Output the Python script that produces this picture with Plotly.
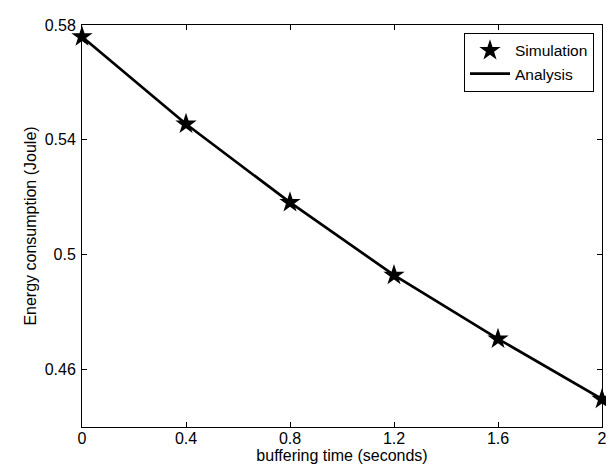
import plotly.graph_objects as go

buffering_time = [0, 0.4, 0.8, 1.2, 1.6, 2.0]
simulation = [0.5759, 0.5455, 0.5182, 0.4929, 0.4707, 0.4497]
analysis = [0.5759, 0.5455, 0.5182, 0.4929, 0.4707, 0.4497]
x_ticks = [0, 0.4, 0.8, 1.2, 1.6, 2]
x_tick_labels = ["0", "0.4", "0.8", "1.2", "1.6", "2"]
y_ticks = [0.46, 0.5, 0.54, 0.58]
y_tick_labels = ["0.46", "0.5", "0.54", "0.58"]

FONT = "Liberation Sans, Arial, Helvetica, sans-serif"

fig = go.Figure()
fig.add_trace(go.Scatter(
    x=buffering_time, y=simulation, mode="markers", name="Simulation",
    marker=dict(symbol="star", size=16, color="black", line=dict(width=0)),
    cliponaxis=False,
))
fig.add_trace(go.Scatter(
    x=buffering_time, y=analysis, mode="lines", name="Analysis",
    line=dict(color="black", width=2.7),
    cliponaxis=False,
))

axis_common = dict(
    showline=True, linecolor="black", linewidth=1, mirror="allticks",
    ticks="inside", ticklen=5, tickcolor="black", tickwidth=1,
    showgrid=False, zeroline=False,
    tickfont=dict(family=FONT, size=16, color="black"),
    title_font=dict(family=FONT, size=16, color="black"),
)

fig.update_xaxes(range=[0, 2], tickvals=x_ticks, ticktext=x_tick_labels,
                 ticklabelstandoff=-3,
                 title_text="buffering time (seconds)", title_standoff=3, **axis_common)
fig.update_yaxes(range=[0.44, 0.58], tickvals=y_ticks, ticktext=y_tick_labels,
                 ticklabelstandoff=2,
                 title_text="Energy consumption (Joule)", title_standoff=4, **axis_common)

fig.update_layout(
    width=614, height=466,
    margin=dict(l=74, r=20, t=9, b=47),
    paper_bgcolor="white", plot_bgcolor="white",
    showlegend=True,
    legend=dict(
        x=0.9846, y=0.9805, xanchor="right", yanchor="top",
        bgcolor="white", bordercolor="black", borderwidth=1,
        font=dict(family=FONT, size=15.5, color="black"),
        tracegroupgap=0, itemwidth=40,
    ),
)

fig.write_html("out.html")
